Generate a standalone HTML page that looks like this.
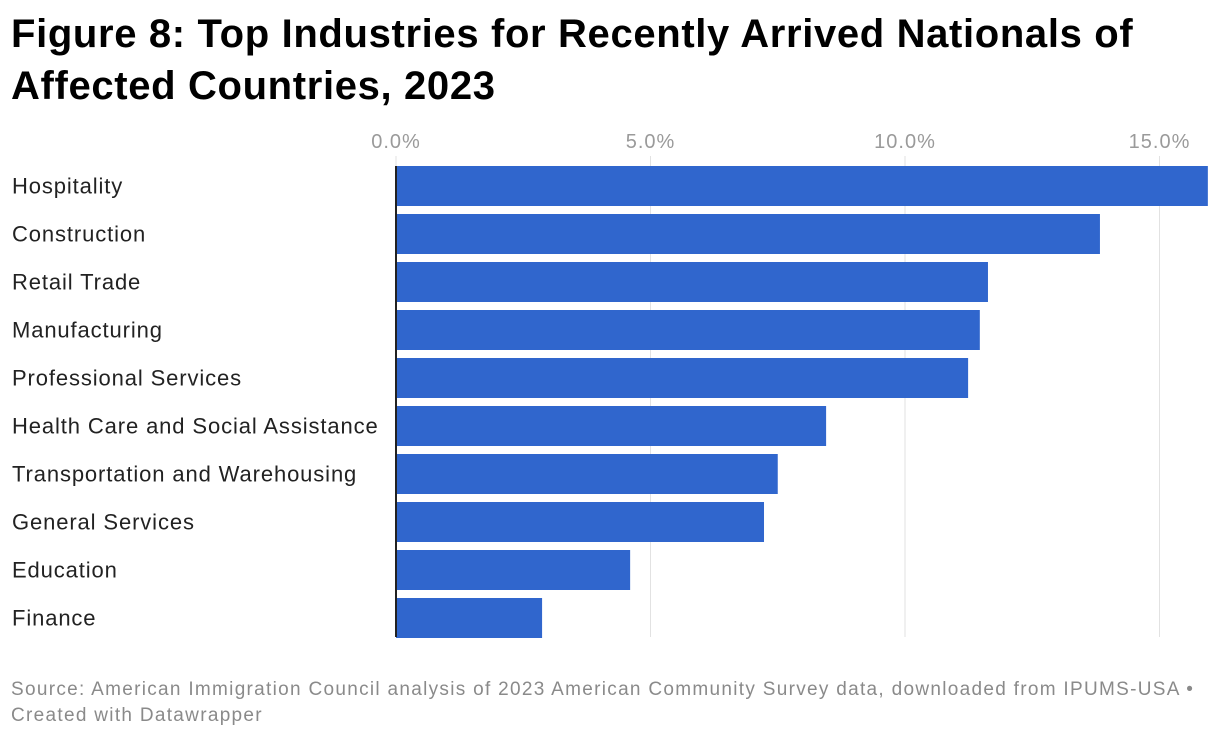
<!DOCTYPE html>
<html><head><meta charset="utf-8"><style>
body{margin:0;background:#fff;font-family:"Liberation Sans",sans-serif;}
#wrap{position:relative;width:1220px;height:740px;overflow:hidden}
h1{position:absolute;left:11px;top:8px;margin:0;font-size:40px;line-height:52px;font-weight:bold;color:#000;letter-spacing:0.65px}
.foot{position:absolute;left:11px;font-size:19px;color:#8a8a8a;letter-spacing:1.3px}
</style></head><body>
<div id="wrap">
<h1>Figure 8: Top Industries for Recently Arrived Nationals of<br>Affected Countries, 2023</h1>
<svg id="chart" width="1220" height="740" style="position:absolute;left:0;top:0"></svg>
<div class="foot" style="top:679px">Source: American Immigration Council analysis of 2023 American Community Survey data, downloaded from IPUMS-USA •</div>
<div class="foot" style="top:705px">Created with Datawrapper</div>
</div>
<script>
const categories=["Hospitality","Construction","Retail Trade","Manufacturing","Professional Services","Health Care and Social Assistance","Transportation and Warehousing","General Services","Education","Finance"];
const values=[15.95,13.83,11.63,11.47,11.24,8.45,7.5,7.23,4.6,2.87];
const ticks=[0,5,10,15];
const tickLabels=["0.0%","5.0%","10.0%","15.0%"];
const NS="http://www.w3.org/2000/svg";
const svg=document.getElementById('chart');
const x0=396,pxPer=50.9,top0=166,step=48,bh=40;
const xs=v=>x0+v*pxPer;
const ys=i=>top0+i*step;
function mk(t,a){const e=document.createElementNS(NS,t);for(const k in a)e.setAttribute(k,a[k]);svg.appendChild(e);return e;}
ticks.forEach((t,i)=>{
 const g=mk('line',{x1:xs(t),x2:xs(t),y1:156,y2:637,stroke:'#e2e2e2','stroke-width':1});
 
 
 const tx=mk('text',{x:xs(t),y:148,'text-anchor':'middle','font-size':20,'letter-spacing':1,fill:'#9a9a9a','font-family':'Liberation Sans, sans-serif'});
 tx.textContent=tickLabels[i];
 
 
});
categories.forEach((c,i)=>{
 const r=mk('rect',{x:xs(0),y:ys(i),width:xs(values[i])-xs(0),height:bh,fill:'#3066cd'});
 
 
 const t=mk('text',{x:12,y:ys(i)+bh/2+7.5,'font-size':22,'letter-spacing':0.88,fill:'#222','font-family':'Liberation Sans, sans-serif'});
 t.textContent=c;
 
 
});
const ax=mk('line',{x1:x0,x2:x0,y1:166,y2:637,stroke:'#222','stroke-width':2});


</script>
</body></html>
